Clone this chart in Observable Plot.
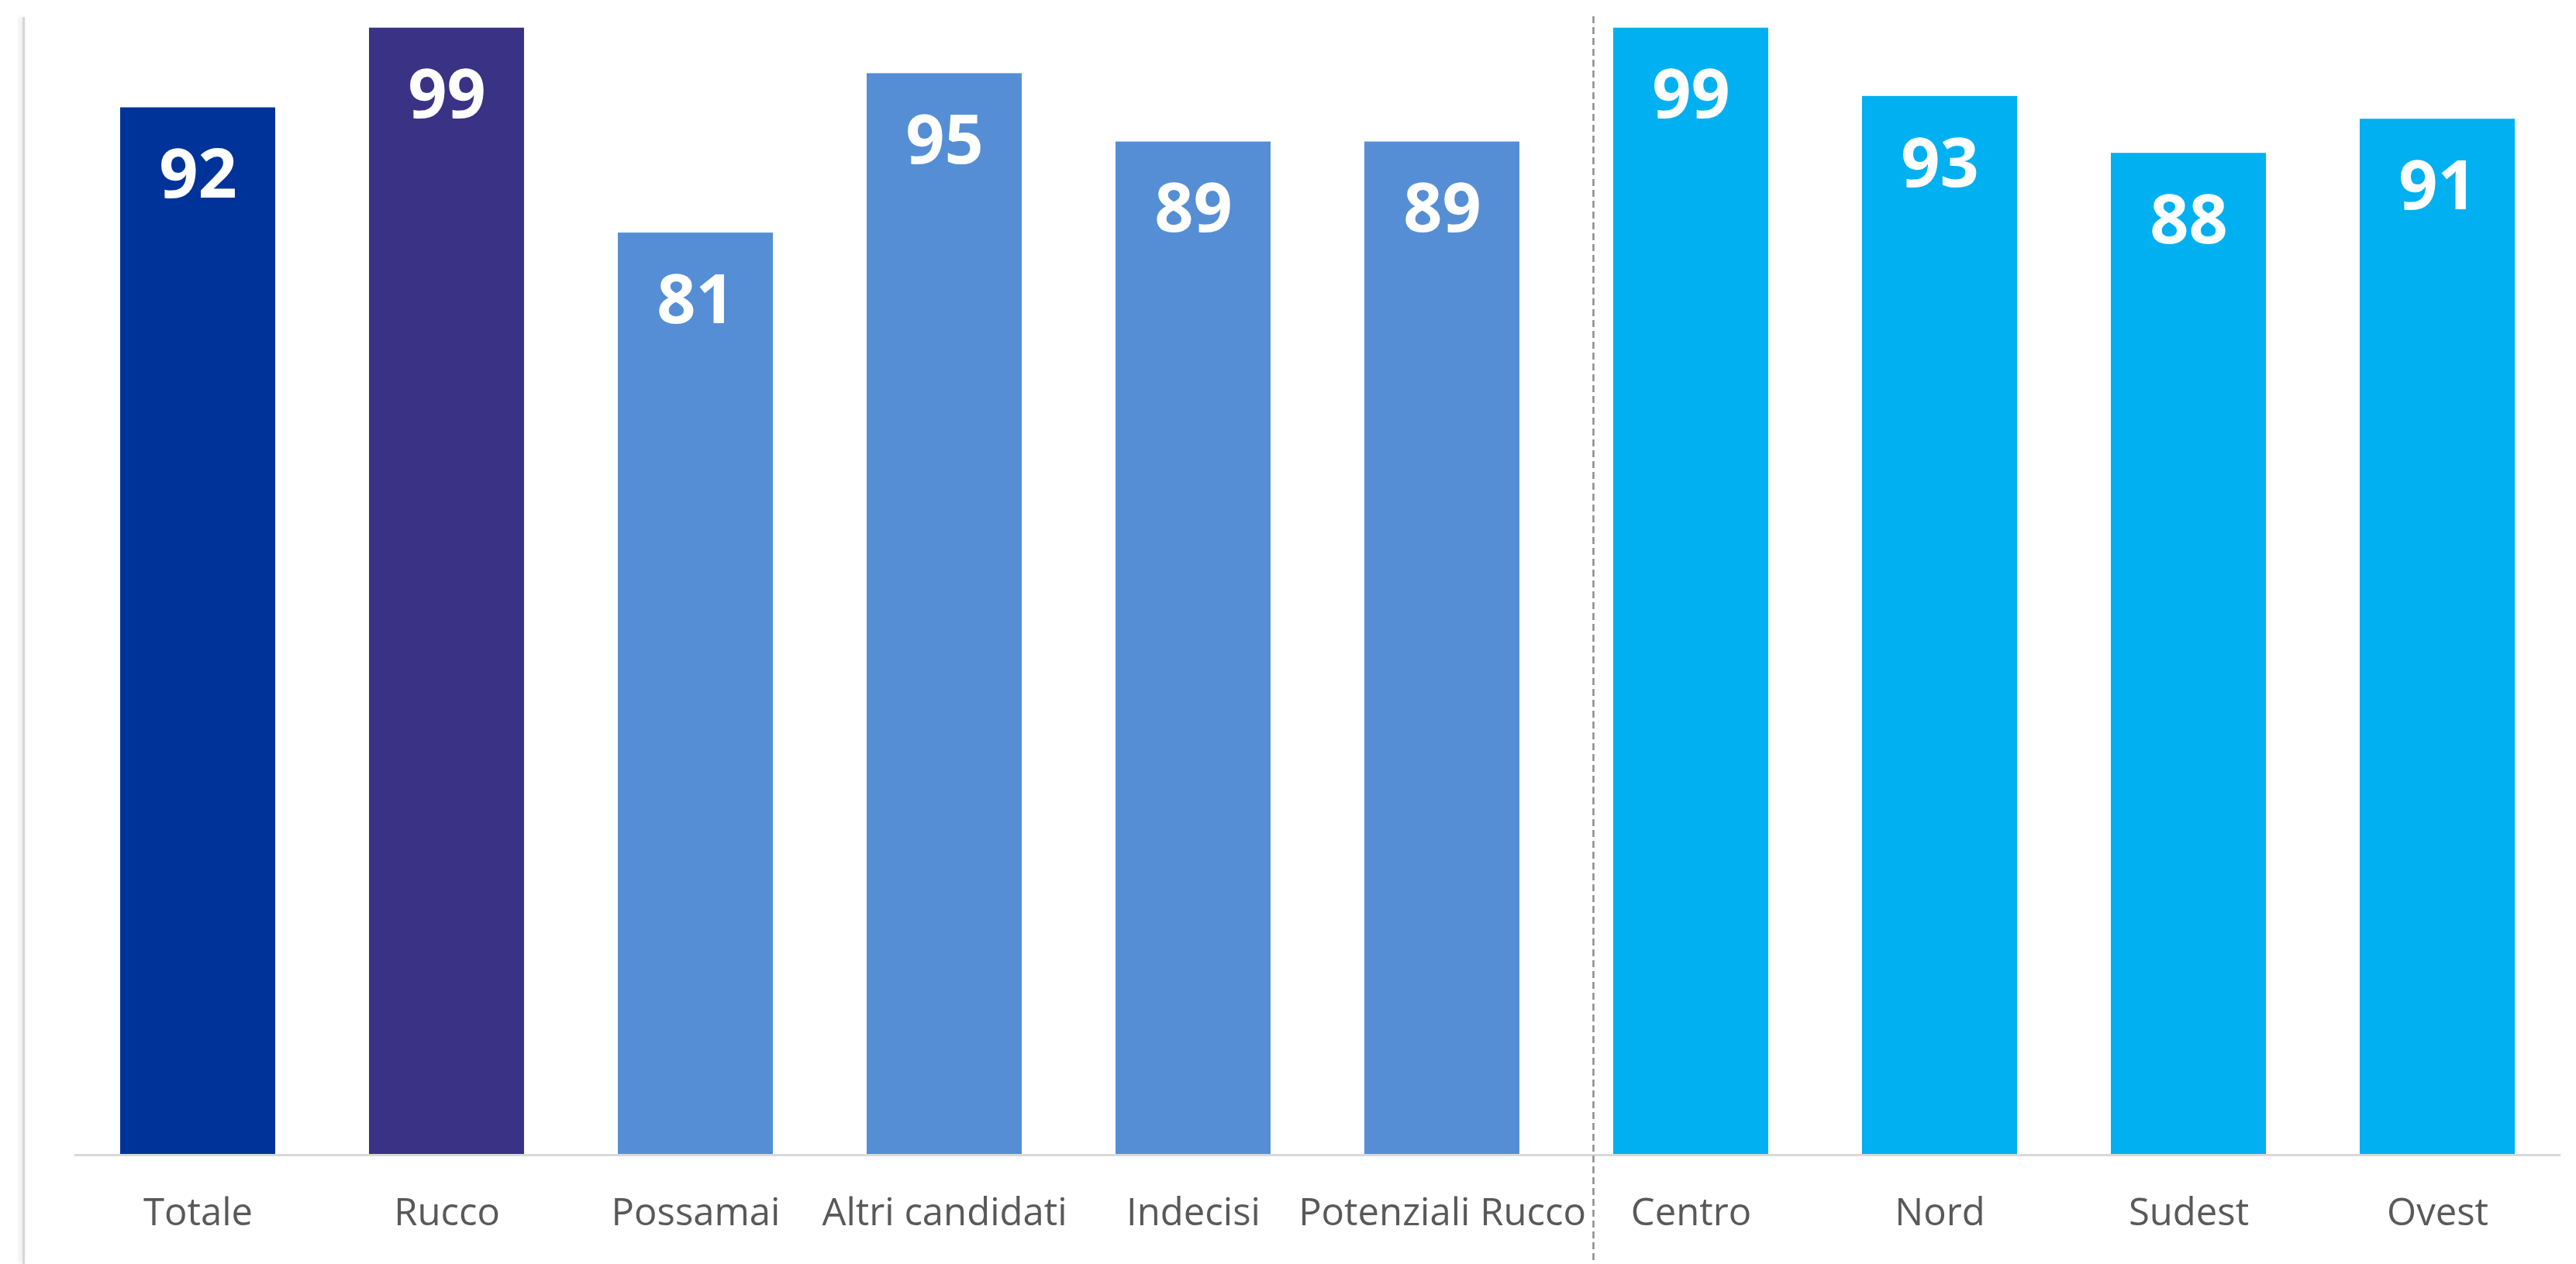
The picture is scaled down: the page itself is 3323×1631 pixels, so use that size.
<!DOCTYPE html>
<html><head><meta charset="utf-8">
<script src="https://cdn.jsdelivr.net/npm/d3@7"></script>
<script src="https://cdn.jsdelivr.net/npm/@observablehq/plot@0.6"></script>
<style>
html,body{margin:0;padding:0;background:#fff;}
#wrap{position:relative;width:3323px;height:1631px;overflow:hidden;background:#fff;}
#wrap svg{position:absolute;left:0;top:0;}
#shadow{position:absolute;left:29px;top:22px;bottom:0;width:3px;background:#d6d6d6;box-shadow:-3px 0 6px rgba(0,0,0,0.16);z-index:2;}
</style></head><body><div id="wrap"><div id="shadow"></div></div>
<script>
const categories = ["Totale","Rucco","Possamai","Altri candidati","Indecisi","Potenziali Rucco","Centro","Nord","Sudest","Ovest"];
const values = [92,99,81,95,89,89,99,93,88,91];
const groups = ["Totale","Rucco","Elettorato","Elettorato","Elettorato","Elettorato","Zone","Zone","Zone","Zone"];
const groupNames = ["Totale","Rucco","Elettorato","Zone"];
const dividerBefore = ["Centro"];

const data = categories.map((c,i)=>({category:c, value:values[i], group:groups[i]}));

const chart = Plot.plot({
  width:3323, height:1631,
  marginTop:21, marginBottom:141, marginLeft:96, marginRight:20,
  style:{fontFamily:"'Open Sans', sans-serif", background:"transparent", overflow:"visible"},
  x:{domain:categories, paddingInner:0.377, paddingOuter:0.175, align:0.5, label:null},
  y:{domain:[0,100], axis:null},
  color:{domain:groupNames, range:["#003399","#3A3285","#558ED5","#00B0F0"]},
  marks:[
    Plot.barY(data,{x:"category", y:"value", fill:"group"}),
    Plot.ruleY([0],{stroke:"#D9D9D9", strokeWidth:3}),
    Plot.ruleX(dividerBefore,{x:d=>d, stroke:"#8c8c8c", strokeWidth:2.5, strokeDasharray:"9,5", dx:-126, insetBottom:-141}),
    Plot.text(data,{x:"category", y:"value", text:d=>String(d.value), fill:"white", fontWeight:"bold", fontSize:88, dy:88, lineAnchor:"middle"}),
    Plot.axisX({tickSize:0, tickPadding:56, fontSize:49, color:"#595959", label:null})
  ]
});
document.getElementById("wrap").appendChild(chart);
</script>
</body></html>
